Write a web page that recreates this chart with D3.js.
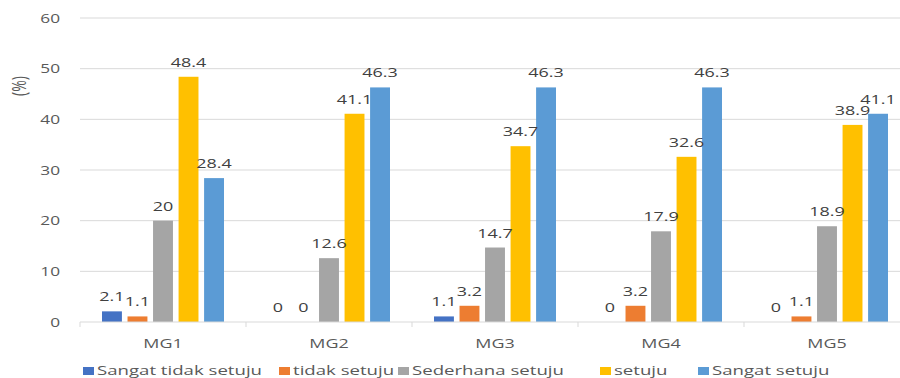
<!DOCTYPE html>
<html>
<head>
<meta charset="utf-8">
<script src="https://cdn.jsdelivr.net/npm/d3@7"></script>
<style>
  html, body { margin: 0; padding: 0; background: #fff; }
  svg { display: block; }
  text { font-family: "Open Sans", "DejaVu Sans", sans-serif; }
</style>
</head>
<body>
<svg id="chart" width="900" height="378"></svg>
<script>
// Survey responses per item (percent)
const categories = ["MG1", "MG2", "MG3", "MG4", "MG5"];
const seriesNames = ["Sangat tidak setuju", "tidak setuju", "Sederhana setuju", "setuju", "Sangat setuju"];
const sangatTidakSetuju = [2.1, 0, 1.1, 0, 0];
const tidakSetuju      = [1.1, 0, 3.2, 3.2, 1.1];
const sederhanaSetuju  = [20, 12.6, 14.7, 17.9, 18.9];
const setuju           = [48.4, 41.1, 34.7, 32.6, 38.9];
const sangatSetuju     = [28.4, 46.3, 46.3, 46.3, 41.1];
const yTicks = [0, 10, 20, 30, 40, 50, 60];
const colors = ["#4472C4", "#ED7D31", "#A5A5A5", "#FFC000", "#5B9BD5"];

const seriesValues = [sangatTidakSetuju, tidakSetuju, sederhanaSetuju, setuju, sangatSetuju];

const svg = d3.select("#chart");
const SX = 1.38; // horizontal stretch applied to all text

const x0 = d3.scaleBand().domain(categories).range([80, 910]).paddingInner(0).paddingOuter(0);
const x1 = d3.scaleBand().domain(seriesNames).range([22, x0.bandwidth() - 22]).paddingInner(0.22);
const y = d3.scaleLinear().domain([0, 60]).range([322, 18]);

function stretchedText(sel, x, yPos) {
  return sel.attr("transform", `translate(${x},${yPos}) scale(${SX},1)`);
}

// Gridlines
svg.append("g")
  .selectAll("line")
  .data(yTicks.filter(d => d !== 0))
  .join("line")
  .attr("x1", 80).attr("x2", 910)
  .attr("y1", d => y(d)).attr("y2", d => y(d))
  .attr("stroke", "#D9D9D9").attr("stroke-width", 1);

// Y tick labels
svg.append("g")
  .selectAll("text")
  .data(yTicks)
  .join("text")
  .each(function(d) { stretchedText(d3.select(this), 60, y(d) + 4.5); })
  .attr("text-anchor", "end")
  .attr("font-size", 12.5)
  .attr("fill", "#595959")
  .text(d => d);

// Y axis title
svg.append("text")
  .attr("transform", `translate(26,86) rotate(-90) scale(1,${SX})`)
  .attr("text-anchor", "middle")
  .attr("font-size", 14)
  .attr("fill", "#595959")
  .text("(%)");

// Bars
const groups = svg.append("g")
  .selectAll("g")
  .data(categories)
  .join("g")
  .attr("transform", d => `translate(${x0(d)},0)`);

groups.selectAll("rect")
  .data((c, ci) => seriesNames.map((s, si) => ({ s, si, v: seriesValues[si][ci] })))
  .join("rect")
  .attr("x", d => x1(d.s))
  .attr("width", x1.bandwidth())
  .attr("y", d => y(d.v))
  .attr("height", d => y(0) - y(d.v))
  .attr("fill", d => colors[d.si]);

// Value labels
groups.selectAll("text")
  .data((c, ci) => seriesNames.map((s, si) => ({ s, si, v: seriesValues[si][ci] })))
  .join("text")
  .each(function(d) {
    stretchedText(d3.select(this), x1(d.s) + x1.bandwidth() / 2, y(d.v) - 10);
  })
  .attr("text-anchor", "middle")
  .attr("font-size", 13)
  .attr("fill", "#404040")
  .text(d => d.v);

// X axis baseline and ticks
svg.append("line")
  .attr("x1", 80).attr("x2", 910)
  .attr("y1", y(0)).attr("y2", y(0))
  .attr("stroke", "#D9D9D9").attr("stroke-width", 1);

svg.append("g")
  .selectAll("line")
  .data(categories)
  .join("line")
  .attr("x1", d => x0(d)).attr("x2", d => x0(d))
  .attr("y1", y(0)).attr("y2", y(0) + 5)
  .attr("stroke", "#D9D9D9");

// Category labels
svg.append("g")
  .selectAll("text")
  .data(categories)
  .join("text")
  .each(function(d) { stretchedText(d3.select(this), x0(d) + x0.bandwidth() / 2, 348); })
  .attr("text-anchor", "middle")
  .attr("font-size", 13)
  .attr("fill", "#595959")
  .text(d => d);

// Legend
const legendX = [83, 279, 398, 600, 698];
const legend = svg.append("g")
  .selectAll("g")
  .data(seriesNames)
  .join("g")
  .attr("transform", (d, i) => `translate(${legendX[i]},0)`);

legend.append("rect")
  .attr("x", 0).attr("y", 367)
  .attr("width", 11).attr("height", 8)
  .attr("fill", (d, i) => colors[i]);

legend.append("text")
  .each(function() { stretchedText(d3.select(this), 14, 375); })
  .attr("font-size", 13.5)
  .attr("fill", "#595959")
  .text(d => d);
</script>
</body>
</html>
